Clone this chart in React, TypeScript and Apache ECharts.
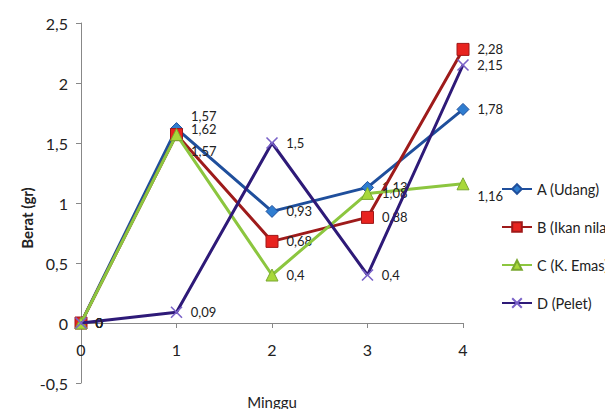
import React, { useEffect, useRef } from "react";
import * as echarts from "echarts";

// Weekly weight gain per feed type
const weeks = ["0", "1", "2", "3", "4"];
const seriesNames = ["A (Udang)", "B (Ikan nila)", "C (K. Emas)", "D (Pelet)"];
const udang = [0, 1.62, 0.93, 1.13, 1.78];
const ikanNila = [0, 1.57, 0.68, 0.88, 2.28];
const kEmas = [0, 1.57, 0.4, 1.08, 1.16];
const pelet = [0, 0.09, 1.5, 0.4, 2.15];

const FONT = "Lato, 'Open Sans', sans-serif";

const fmt = (v: number) => String(v).replace(".", ",");

// label offsets for points whose labels would otherwise overlap
const labelNudges: Record<number, Record<number, [number, number]>> = {
  1: { 1: [0, -19] },
  2: { 1: [0, 16], 4: [0, 12] },
};

const styles = [
  { line: "#1f4f9c", fill: "#2f7dd0", border: "#1f4f9c", symbol: "diamond", size: 12 },
  { line: "#9e1b1b", fill: "#e8231f", border: "#a01818", symbol: "rect", size: 12 },
  { line: "#8cc63f", fill: "#a8d83a", border: "#7aa830", symbol: "triangle", size: 12 },
  { line: "#2e1a78", fill: "none", border: "#7a62c8", symbol: "path://M0,0L10,10M10,0L0,10", size: 11 },
];

const GRID_TOP = 23;
const GRID_BOTTOM = 26;
const CHART_H = 409;
const Y_MIN = -0.5;
const Y_MAX = 2.5;

export default function App() {
  const ref = useRef<HTMLDivElement>(null);

  useEffect(() => {
    document.body.style.margin = "0";
    if (!ref.current) return;
    const chart = echarts.init(ref.current, undefined, { renderer: "svg" });
    const values = [udang, ikanNila, kEmas, pelet];

    // the category axis crosses the value axis at zero
    const plotH = CHART_H - GRID_TOP - GRID_BOTTOM;
    const zeroShift = -plotH * ((0 - Y_MIN) / (Y_MAX - Y_MIN));

    const series = values.map((vals, si) => {
      const st = styles[si];
      return {
        name: seriesNames[si],
        type: "line",
        data: vals.map((v, i) => {
          const nudge = labelNudges[si] && labelNudges[si][i];
          return nudge ? { value: v, label: { offset: nudge } } : v;
        }),
        symbol: st.symbol,
        symbolSize: st.size,
        showAllSymbol: true,
        lineStyle: { color: st.line, width: 3 },
        itemStyle: {
          color: st.fill === "none" ? "rgba(0,0,0,0)" : st.fill,
          borderColor: st.border,
          borderWidth: st.fill === "none" ? 1.6 : 1,
        },
        label: {
          show: true,
          position: "right",
          distance: 8,
          color: "#222",
          fontFamily: FONT,
          fontSize: 13,
          formatter: (p: any) => fmt(p.value),
        },
        emphasis: { disabled: true },
        z: 2 + si,
      };
    });

    chart.setOption({
      animation: false,
      backgroundColor: "#ffffff",
      grid: { left: 81, right: 142, top: GRID_TOP, bottom: GRID_BOTTOM, containLabel: false },
      xAxis: {
        type: "category",
        data: weeks,
        boundaryGap: false,
        offset: zeroShift,
        axisLine: { onZero: false, lineStyle: { color: "#888", width: 1 } },
        axisTick: { show: true, length: 5, lineStyle: { color: "#888" } },
        axisLabel: { color: "#222", fontFamily: FONT, fontSize: 16, margin: 18 },
        splitLine: { show: false },
      },
      yAxis: {
        type: "value",
        min: Y_MIN,
        max: Y_MAX,
        interval: 0.5,
        axisLine: { show: true, lineStyle: { color: "#888", width: 1 } },
        axisTick: { show: true, length: 5, lineStyle: { color: "#888" } },
        axisLabel: {
          color: "#222",
          fontFamily: FONT,
          fontSize: 16,
          margin: 13,
          formatter: (v: number) => fmt(v),
        },
        splitLine: { show: false },
      },
      legend: {
        orient: "vertical",
        left: 496,
        top: 175,
        itemWidth: 30,
        itemHeight: 12,
        itemGap: 20,
        itemStyle: {},
        data: seriesNames,
        textStyle: { color: "#222", fontFamily: FONT, fontSize: 14.5, lineHeight: 18 },
      },
      graphic: [
        {
          type: "text",
          x: 27,
          y: 218,
          rotation: Math.PI / 2,
          style: {
            text: "Berat (gr)",
            fontFamily: FONT,
            fontSize: 15,
            fontWeight: "bold",
            fill: "#222",
            align: "center",
            verticalAlign: "middle",
          },
        },
        {
          type: "text",
          x: 272,
          y: 402,
          style: {
            text: "Minggu",
            fontFamily: FONT,
            fontSize: 15,
            fill: "#222",
            align: "center",
            verticalAlign: "middle",
          },
        },
      ],
      series,
    });

    return () => chart.dispose();
  }, []);

  return <div ref={ref} style={{ width: 605, height: 409 }} />;
}
